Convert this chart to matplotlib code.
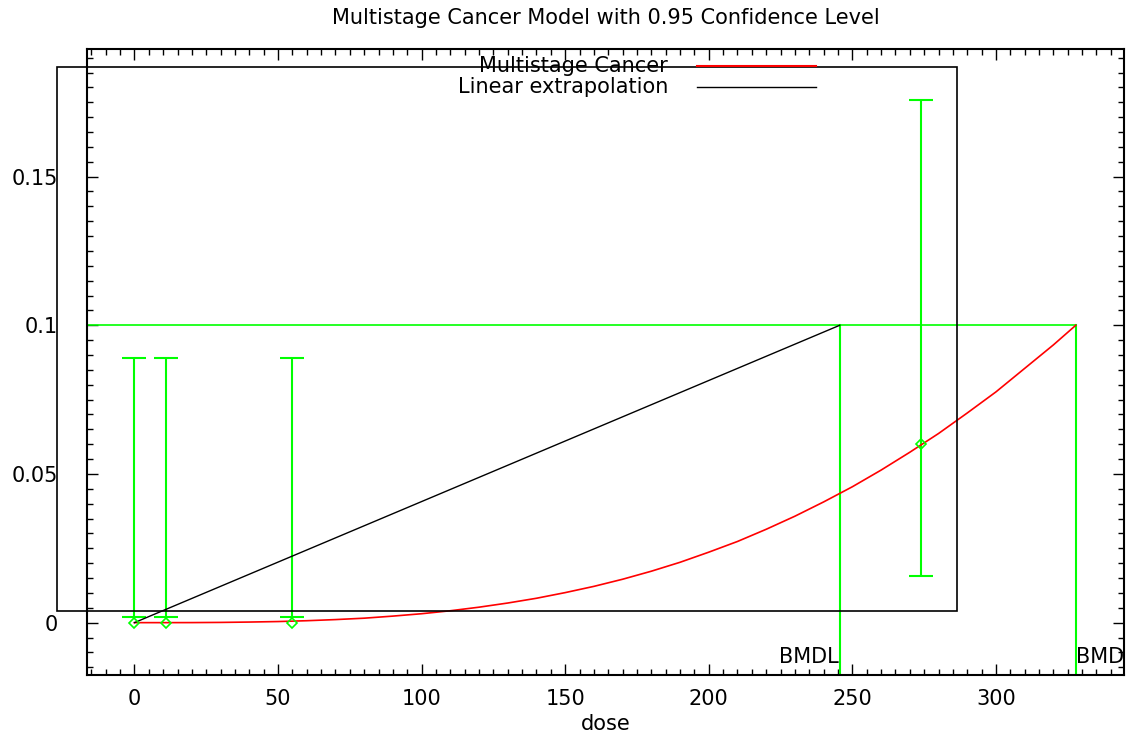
import matplotlib
matplotlib.use("Agg")
import matplotlib.pyplot as plt
from matplotlib.patches import Rectangle
from matplotlib.ticker import MultipleLocator

# observed data with 95% confidence bounds
dose = [0, 11, 55, 274]
resp = [0.0, 0.0, 0.0, 0.060]
lower = [0.0018, 0.0018, 0.0018, 0.0157]
upper = [0.0889, 0.0889, 0.0889, 0.1757]

# fitted multistage curve
curve_dose = [0, 10, 20, 30, 40, 50, 60, 70, 80, 90, 100, 110, 120, 130, 140,
              150, 160, 170, 180, 190, 200, 210, 220, 230, 240, 250, 260, 270,
              280, 290, 300, 310, 320, 327.8]
curve_resp = [0.0, 0.000003, 0.00002, 0.00008, 0.0002, 0.00037, 0.00065,
              0.00103, 0.0015, 0.0022, 0.003, 0.004, 0.0052, 0.0066, 0.0082,
              0.0101, 0.0122, 0.0146, 0.0173, 0.0203, 0.0237, 0.0273, 0.0314,
              0.0358, 0.0406, 0.0457, 0.0513, 0.0573, 0.0636, 0.0705, 0.0776,
              0.0855, 0.0934, 0.1]

bmr = 0.1
bmd = 327.8
bmdl = 245.6

xlim = (-16.5, 344.6)
ylim = (-0.0176, 0.1929)

green = "#00ff00"
fs = 15

fig = plt.figure(figsize=(11.29, 7.36), dpi=100)
ax = fig.add_axes([0.0771, 0.0829, 0.9185, 0.8505])

# error bars (lower bound sits above the point for zero responses) + points
ax.vlines(dose, lower, upper, color=green, lw=1.5, zorder=3)
ax.plot(dose, lower, ls="none", marker="_", ms=17, mew=1.5, color=green, zorder=3)
ax.plot(dose, upper, ls="none", marker="_", ms=17, mew=1.5, color=green, zorder=3)
ax.plot(dose, resp, ls="none", marker="D", ms=5, mfc="none", mew=1.2,
        color=green, zorder=5)

# model curve and linear extrapolation
ax.plot(curve_dose, curve_resp, color="red", lw=1.2, zorder=4)
ax.plot([0, bmdl], [0, bmr], color="black", lw=1.0, zorder=4)

# BMR / BMD / BMDL markers
ax.plot([xlim[0], bmd], [bmr, bmr], color=green, lw=1.2, zorder=2)
ax.plot([bmdl, bmdl], [ylim[0], bmr], color=green, lw=1.5, zorder=2)
ax.plot([bmd, bmd], [ylim[0], bmr], color=green, lw=1.5, zorder=2)
ax.annotate("BMDL", (bmdl, ylim[0]), xytext=(-1, 6), textcoords="offset points",
            ha="right", va="bottom", fontsize=fs)
ax.annotate("BMD", (bmd, ylim[0]), xytext=(0.5, 6), textcoords="offset points",
            ha="left", va="bottom", fontsize=fs, annotation_clip=False)

ax.set_xlim(*xlim)
ax.set_ylim(*ylim)
ax.xaxis.set_major_locator(MultipleLocator(50))
ax.xaxis.set_minor_locator(MultipleLocator(5))
ax.yaxis.set_major_locator(MultipleLocator(0.05))
ax.yaxis.set_minor_locator(MultipleLocator(0.005))
ax.yaxis.set_major_formatter(plt.FuncFormatter(lambda v, p: "%g" % round(v, 4)))
ax.tick_params(which="both", direction="in", top=True, right=True, width=1.0)
ax.tick_params(which="major", length=8, labelsize=fs)
ax.tick_params(which="minor", length=4)
ax.tick_params(axis="x", pad=10)
ax.tick_params(axis="y", pad=21)
for s in ax.spines.values():
    s.set_linewidth(1.5)

ax.set_xlabel("dose", fontsize=fs, labelpad=4)
ax.set_title("Multistage Cancer Model with 0.95 Confidence Level",
             fontsize=fs, pad=18)

# gnuplot-style key box (oversized, spills past the frame)
fig.patches.append(Rectangle((57 / 1129, 1 - 611 / 736), 900 / 1129, 544 / 736,
                             transform=fig.transFigure, fill=False,
                             edgecolor="black", lw=1.2, zorder=5))
fig.text(668 / 1129, 1 - 66 / 736, "Multistage Cancer", ha="right", va="center",
         fontsize=fs, zorder=6)
fig.text(668 / 1129, 1 - 87 / 736, "Linear extrapolation", ha="right", va="center",
         fontsize=fs, zorder=6)
fig.add_artist(plt.Line2D([697 / 1129, 816 / 1129], [1 - 66 / 736] * 2,
                          color="red", lw=1.5, zorder=7))
fig.add_artist(plt.Line2D([697 / 1129, 816 / 1129], [1 - 87 / 736] * 2,
                          color="black", lw=1.0, zorder=7))

fig.savefig("out.png", dpi=100)
